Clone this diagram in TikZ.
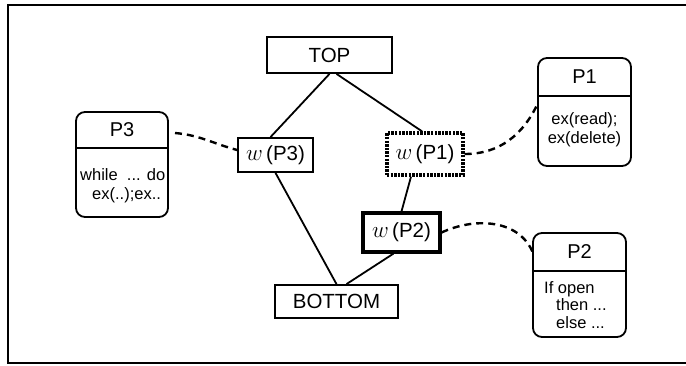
\RequirePackage{fix-cm}
\documentclass[tikz,border=0pt]{standalone}
\usepackage{fontspec}
\setmainfont{Liberation Sans}
\newcommand{\wv}{{\fontsize{23}{23}\selectfont$w$}}
\tikzset{
  latbox/.style={draw, line width=1.8pt, inner sep=0pt, font=\fontsize{20.5}{20.5}\selectfont},
  procbox/.style={draw, line width=1.8pt, rounded corners=9pt, inner sep=0pt, outer sep=0pt},
  proctitle/.style={font=\fontsize{20}{20}\selectfont, inner sep=0pt},
  procbody/.style={font=\fontsize{16.5}{19.5}\selectfont, inner sep=0pt, align=left},
  link/.style={line width=1.8pt},
  view/.style={line width=2.4pt, dash pattern=on 7pt off 5pt},
}
\begin{document}
\begin{tikzpicture}[x=1pt,y=1pt]
\useasboundingbox (0,0) rectangle (686,365);
% frame
\draw[line width=2.2pt] (686,360) -- (8,360) -- (8,2) -- (686,2);

% lattice
\node[latbox, minimum width=125pt, minimum height=36pt] (top) at (329.5,310) {TOP};
\node[latbox, minimum width=75pt, minimum height=34pt] (w3) at (275.5,210) {\wv\,(P3)};
\node[latbox, minimum width=76pt, minimum height=42pt, line width=3.4pt, dash pattern=on 2.4pt off 1.2pt] (w1) at (425,211) {\wv\,(P1)};
\node[latbox, minimum width=77pt, minimum height=39pt, line width=3.2pt] (w2) at (401.5,132.5) {\wv\,(P2)};
\node[latbox, minimum width=123pt, minimum height=33pt] (bot) at (336.5,63.5) {BOTTOM};

\draw[link] (top.south) -- ([xshift=-5pt]w3.north);
\draw[link] ([xshift=7pt]top.south) -- ([xshift=-3pt]w1.north);
\draw[link] (w3.south) -- (bot.north);
\draw[link] ([xshift=-14pt]w1.south) -- (w2.north);
\draw[link] ([xshift=-8pt]w2.south) -- ([xshift=10pt]bot.north);

% processes
\node[procbox, minimum width=92pt, minimum height=105pt] (p3) at (122,200.5) {};
\node[procbox, minimum width=93pt, minimum height=108pt] (p1) at (584.5,253) {};
\node[procbox, minimum width=93pt, minimum height=104pt] (p2) at (579.5,80) {};
\foreach \p/\n/\h in {p3/P3/36, p1/P1/38, p2/P2/38} {
  \draw[line width=1.4pt] ([yshift=-\h pt]\p.north west) -- ([yshift=-\h pt]\p.north east);
  \node[proctitle] (\p-title) at ([yshift=-\h pt/2]\p.north) {\n};
}
\node[procbody, anchor=north west] (p3-body) at (80,197) {while\ \ ... do\\\hspace*{12pt}ex(..);ex..};
\node[procbody, align=center, anchor=north] (p1-body) at (584.5,253) {ex(read);\\ex(delete)};
\node[procbody, anchor=north west, font=\fontsize{16.5}{17.5}\selectfont] (p2-body) at (544,84) {If open\\\hspace*{12pt}then ...\\\hspace*{12pt}else ...};

% views
\draw[view] ([shift={(7,-21)}]p3.north east) to[out=-5,in=165] ([yshift=5pt]w3.west);
\draw[view] (w1.east) to[out=0,in=-115] ([yshift=9pt]p1.west);
\draw[view] (w2.east) to[out=25,in=112] ([yshift=32pt]p2.west);
\end{tikzpicture}
\end{document}
